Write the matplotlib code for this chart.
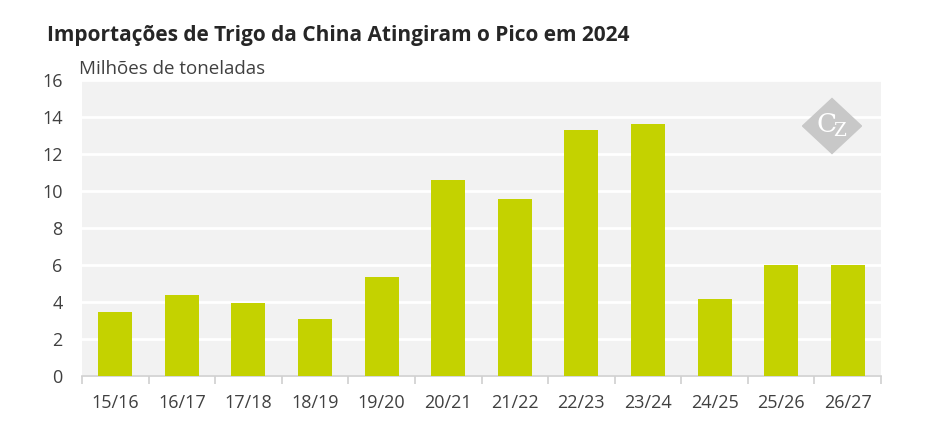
import matplotlib.pyplot as plt
from matplotlib.patches import Polygon

plt.rcParams["font.family"] = ["Open Sans", "DejaVu Sans"]
plt.rcParams["mathtext.fontset"] = "dejavuserif"

seasons = ["15/16", "16/17", "17/18", "18/19", "19/20", "20/21",
           "21/22", "22/23", "23/24", "24/25", "25/26", "26/27"]
imports = [3.45, 4.4, 3.95, 3.1, 5.35, 10.6, 9.55, 13.3, 13.6, 4.15, 6.0, 6.0]
yticks = [0, 2, 4, 6, 8, 10, 12, 14, 16]

W, H = 945, 443
fig = plt.figure(figsize=(W / 100, H / 100), dpi=100)
ax = fig.add_axes([82 / W, 1 - 376 / H, (881 - 82) / W, (376 - 80) / H])
ax.set_facecolor("#f2f2f2")

x = range(len(seasons))
ax.bar(x, imports, width=0.51, color="#c4d200", zorder=3)

ax.set_xlim(-0.5, len(seasons) - 0.5)
ax.set_ylim(0, 16)
ax.set_yticks(yticks)
ax.yaxis.grid(True, color="white", lw=2, zorder=1)
ax.set_axisbelow(True)

for s in ("top", "right", "left"):
    ax.spines[s].set_visible(False)
ax.spines["bottom"].set_color("#d0d0d0")
ax.spines["bottom"].set_linewidth(1.2)

ax.tick_params(axis="y", length=0, pad=14, labelsize=13, labelcolor="#404040")
ax.set_xticks(list(x))
ax.set_xticklabels(seasons)
ax.tick_params(axis="x", length=0, pad=13, labelsize=13, labelcolor="#404040")
ax.set_xticks([i - 0.5 for i in range(len(seasons) + 1)], minor=True)
ax.tick_params(axis="x", which="minor", length=6, width=1.2, color="#d0d0d0")

fig.text(47 / W, 1 - 36 / H, "Importações de Trigo da China Atingiram o Pico em 2024",
         fontsize=15, fontweight="bold", color="#262626", va="center")
fig.text(79 / W, 1 - 69 / H, "Milhões de toneladas", fontsize=13.5,
         color="#404040", va="center")

# logo
cx, cy, rx, ry = 832 / W, 1 - 126 / H, 29.5, 27.5
diamond = Polygon([(cx - rx / W, cy), (cx, cy + ry / H), (cx + rx / W, cy), (cx, cy - ry / H)],
                  closed=True, transform=fig.transFigure, color="#c8c8c8", zorder=5)
fig.patches.append(diamond)
fig.text(cx, cy + 1 / H, r"$\mathrm{C}_{\!\mathrm{Z}}$", fontsize=19,
         color="white", ha="center", va="center", zorder=6)

fig.savefig("out.png", dpi=100)
